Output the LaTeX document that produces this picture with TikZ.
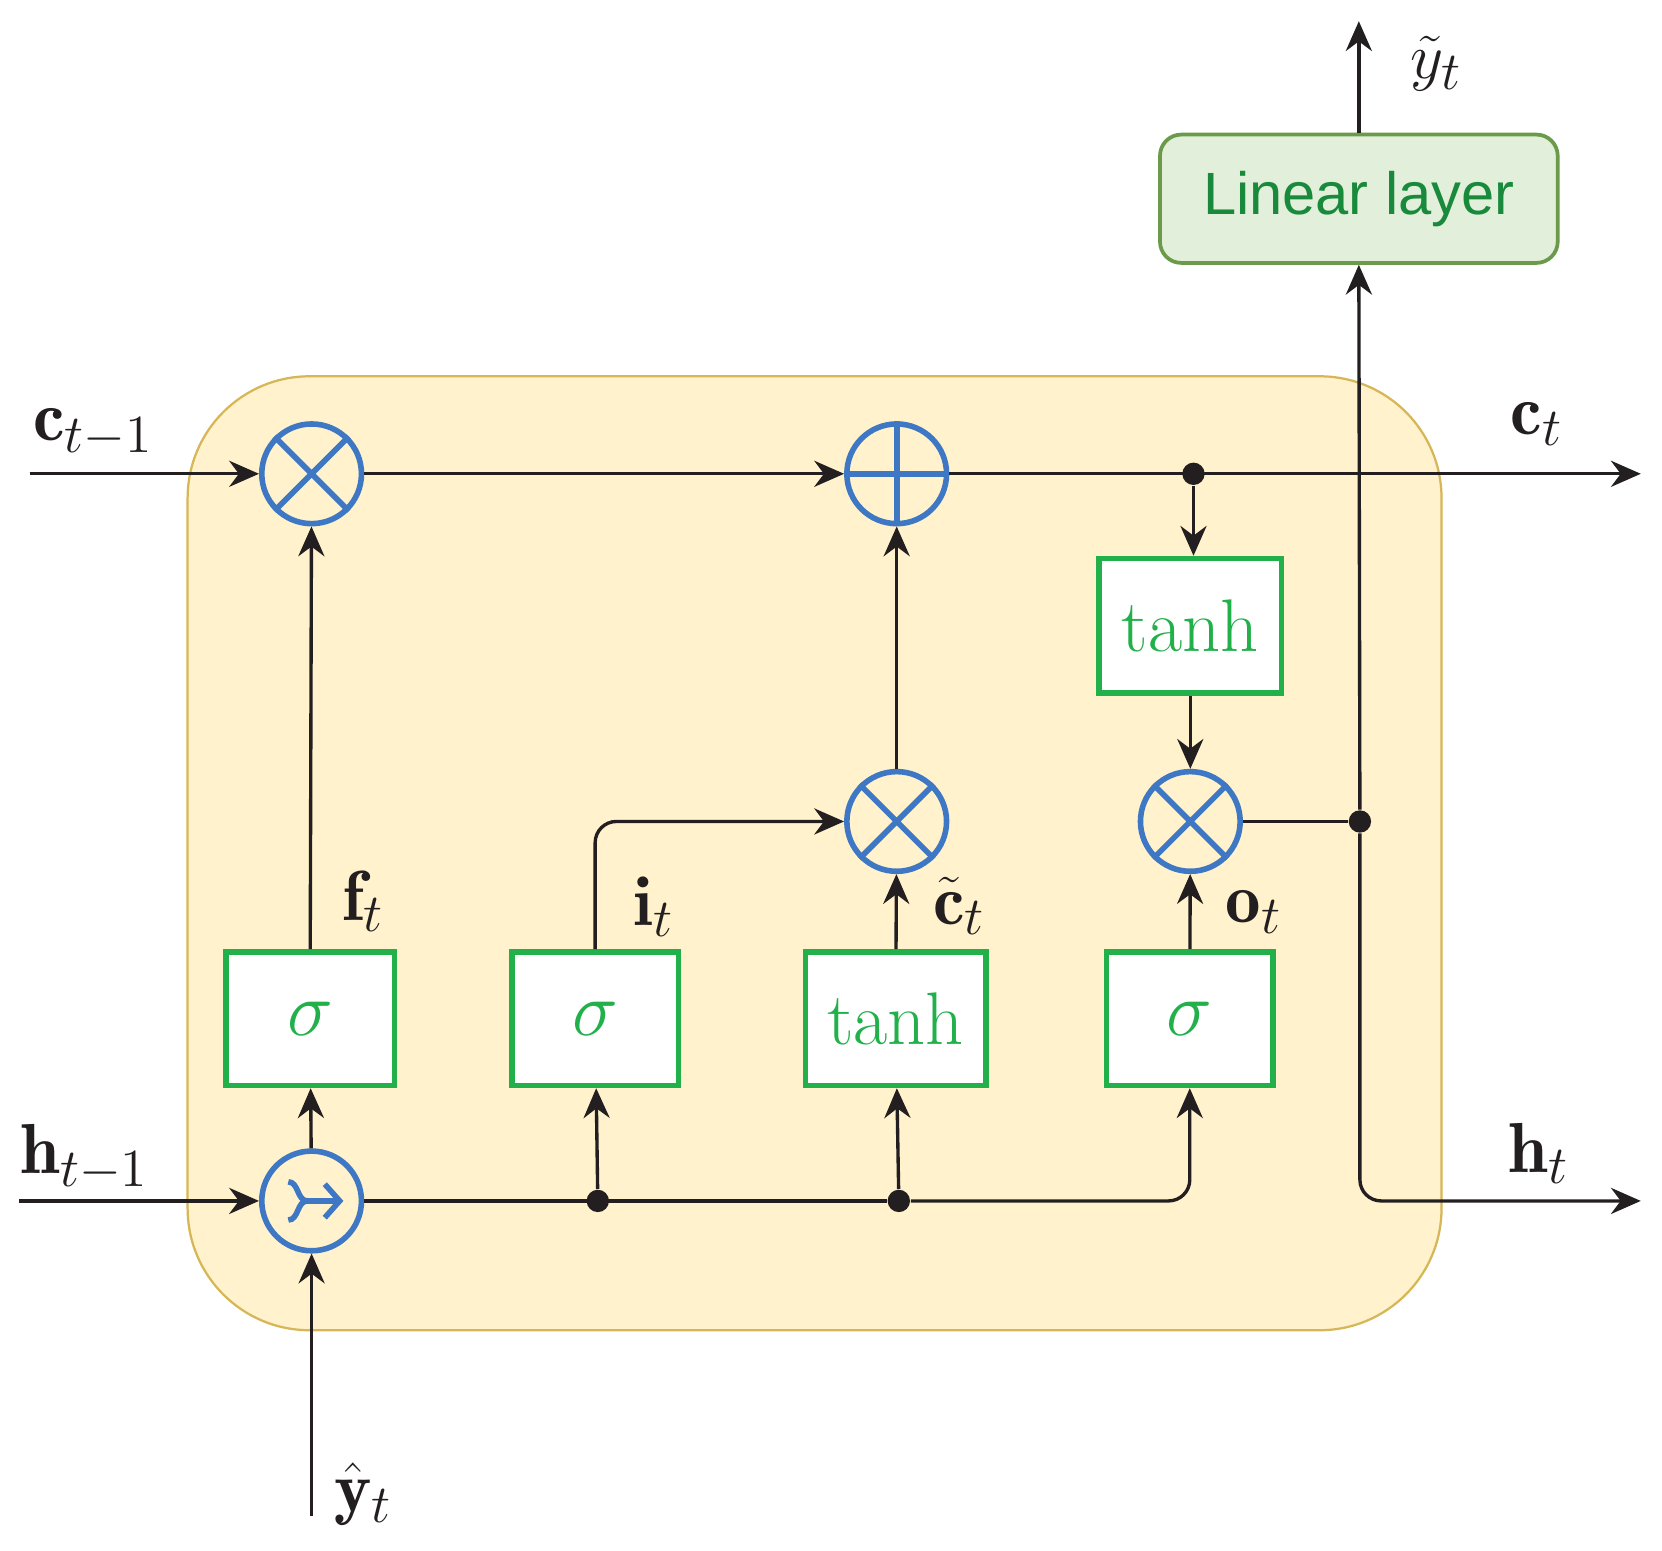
\documentclass[tikz,border=0pt]{standalone}
\usepackage{fontspec}
\usepackage{amsmath}
\newfontfamily\sfx{Liberation Sans}
\usetikzlibrary{arrows.meta}
\definecolor{blu}{HTML}{3E78C4}
\definecolor{grn}{HTML}{22B04B}
\definecolor{dgrn}{HTML}{198A3C}
\definecolor{ink}{HTML}{231F20}
\definecolor{cellf}{HTML}{FFF2CC}
\definecolor{celld}{HTML}{D6B656}
\definecolor{linf}{HTML}{E2EFDA}
\definecolor{lind}{HTML}{6A9A4A}
\begin{document}
\begin{tikzpicture}[x=0.01cm,y=-0.01cm,
  line/.style={draw=ink,line width=0.9pt},
  arr/.style={line,-{Stealth[length=8pt,width=7pt]}},
  op/.style={circle,draw=blu,line width=1.5pt,minimum size=0.94cm,inner sep=0pt},
  gate/.style={draw=grn,line width=1.5pt,fill=white,inner sep=0pt,text=grn,font=\fontsize{20}{23}\selectfont},
  dot/.style={circle,fill=ink,inner sep=0pt,minimum size=6pt},
  lab/.style={font=\fontsize{19}{22}\selectfont,text=ink}]
\useasboundingbox (0,0) rectangle (1568,1463);
\fill[white] (0,0) rectangle (1568,1463);
\draw[fill=cellf,draw=celld,line width=0.6pt,rounded corners=1.15cm] (177,355) rectangle (1360,1255);
% operators
\node[op] (m1) at (294,447) {};
\node[op] (p1) at (846,447) {};
\node[op] (m2) at (846,775) {};
\node[op] (m3) at (1123,775) {};
\node[op] (cc) at (294,1133) {};
\foreach \n in {m1,m2,m3}{
  \draw[blu,line width=1.5pt] (\n.north east)--(\n.south west) (\n.north west)--(\n.south east);}
\draw[blu,line width=1.5pt] (p1.north)--(p1.south) (p1.west)--(p1.east);
\draw[blu,line width=1.5pt] ([shift={(-22,-18)}]cc.center) to[out=0,in=180] ([shift={(-4,0)}]cc.center)
  ([shift={(-22,18)}]cc.center) to[out=0,in=180] ([shift={(-4,0)}]cc.center);
\draw[blu,line width=1.5pt,-{Straight Barb[length=4pt,width=9pt]}] ([shift={(-4,0)}]cc.center) -- ([shift={(30,0)}]cc.center);
% gates
\node[gate,minimum width=1.59cm,minimum height=1.26cm] (g1) at (292.5,961) {$\sigma$};
\node[gate,minimum width=1.57cm,minimum height=1.26cm] (g2) at (561.5,961) {$\sigma$};
\node[gate,minimum width=1.70cm,minimum height=1.26cm] (g3) at (845,961) {tanh};
\node[gate,minimum width=1.57cm,minimum height=1.26cm] (g4) at (1122.5,961) {$\sigma$};
\node[gate,minimum width=1.72cm,minimum height=1.27cm] (g5) at (1123,590.5) {tanh};
\node[draw=lind,fill=linf,line width=1pt,rounded corners=0.2cm,minimum width=3.75cm,minimum height=1.21cm,text=dgrn,font=\sfx\fontsize{16}{19}\selectfont] (lin) at (1282,187.5) {Linear layer};
% coordinates
\coordinate (cin) at (28,447);
\coordinate (cout) at (1548,447);
\coordinate (hin) at (18,1133);
\coordinate (hout) at (1548,1133);
\coordinate (yin) at (294,1430);
\coordinate (yout) at (1282,20);
\node[dot] (d1) at (1126,447) {};
\node[dot] (d2) at (564,1133) {};
\node[dot] (d3) at (848,1133) {};
\node[dot] (d4) at (1283,775) {};
% connectors
\draw[arr] (cin) -- (m1);
\draw[arr] (m1) -- (p1);
\draw[arr] (p1) -- (cout);
\draw[arr] (d1) -- (g5.north -| d1);
\draw[arr] (g5) -- (m3);
\draw[arr] (g1) -- (m1);
\draw[arr] (m2) -- (p1);
\draw[arr,rounded corners=0.2cm] (g2.north) |- (m2);
\draw[arr] (g3) -- (m2);
\draw[arr] (g4) -- (m3);
\draw[arr] (hin) -- (cc);
\draw[arr] (yin) -- (cc);
\draw[arr] (cc) -- (g1);
\draw[line] (cc) -- (d3);
\draw[arr] (d2) -- (g2);
\draw[arr] (d3) -- (g3);
\draw[arr,rounded corners=0.2cm] (d3) -| (g4.south);
\draw[line] (m3) -- (d4);
\draw[arr] (d4) -- (lin.south);
\draw[arr,rounded corners=0.2cm] (d4) |- (hout);
\draw[arr] (lin.north) -- (yout);
% labels
\node[lab] (l1) at (88,408) {$\mathbf{c}_{t-1}$};
\node[lab] (l2) at (1450,400) {$\mathbf{c}_{t}$};
\node[lab] (l3) at (80,1092) {$\mathbf{h}_{t-1}$};
\node[lab] (l4) at (1452,1088) {$\mathbf{h}_{t}$};
\node[lab] (l5) at (343,850) {$\mathbf{f}_{t}$};
\node[lab] (l6) at (617,855) {$\mathbf{i}_{t}$};
\node[lab] (l7) at (905,855) {$\tilde{\mathbf{c}}_{t}$};
\node[lab] (l8) at (1183,860) {$\mathbf{o}_{t}$};
\node[lab] (l9) at (343,1410) {$\hat{\mathbf{y}}_{t}$};
\node[lab] (l10) at (1355,60) {$\tilde{y}_{t}$};
\end{tikzpicture}
\end{document}
